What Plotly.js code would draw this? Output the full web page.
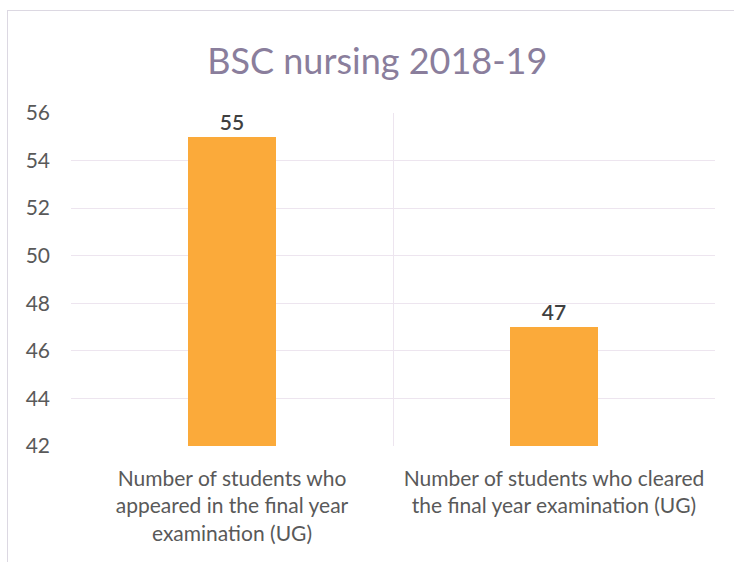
<!DOCTYPE html>
<html>
<head>
<meta charset="utf-8">
<script src="https://cdn.plot.ly/plotly-3.0.1.min.js"></script>
<style>
  html, body { margin: 0; padding: 0; background: #fff; }
  #wrap { position: relative; width: 734px; height: 562px; overflow: hidden; }
  #chart { width: 734px; height: 562px; }
  #frame { position: absolute; left: 7px; top: 10px; width: 740px; height: 560px; border: 1px solid #dcd8e2; pointer-events: none; }
</style>
</head>
<body>
<div id="wrap">
  <div id="chart"></div>
  <div id="frame"></div>
</div>
<script>
const categories = [
  "Number of students who<br>appeared in the final year<br>examination (UG)",
  "Number of students who cleared<br>the final year examination (UG)"
];
const values = [55, 47];
const valueLabels = ["55", "47"];
const yTicks = [42, 44, 46, 48, 50, 52, 54, 56];

const trace = {
  type: "bar",
  x: categories,
  y: values,
  text: valueLabels,
  textposition: "outside",
  cliponaxis: false,
  textfont: { family: "Lato, sans-serif", size: 21, color: "#404040", weight: 600 },
  marker: { color: "#FBAA3A" },
  width: 0.273,
  hoverinfo: "none"
};

const layout = {
  width: 734,
  height: 562,
  margin: { l: 71, r: 19, t: 113, b: 116 },
  paper_bgcolor: "#ffffff",
  plot_bgcolor: "#ffffff",
  font: { family: "Lato, sans-serif", color: "#595959" },
  title: {
    text: "BSC nursing 2018-19",
    font: { family: "Lato, sans-serif", size: 36, color: "#8a7e9c" },
    x: 0.514, xanchor: "center",
    y: 0.89, yanchor: "middle"
  },
  showlegend: false,
  bargap: 0,
  xaxis: {
    type: "category",
    tickson: "boundaries",
    showgrid: true,
    gridcolor: "#ede5ef",
    gridwidth: 1,
    ticks: "",
    showline: false,
    zeroline: false,
    tickfont: { family: "Lato, sans-serif", size: 21, color: "#595959" },
    ticklabelstandoff: 18
  },
  yaxis: {
    range: [42, 56],
    tickvals: yTicks,
    ticktext: yTicks.map(String),
    showgrid: true,
    gridcolor: "#ede5ef",
    gridwidth: 1,
    zeroline: false,
    showline: false,
    ticks: "",
    tickfont: { family: "Lato, sans-serif", size: 21, color: "#595959" },
    ticklabelstandoff: 20
  }
};

Plotly.newPlot("chart", [trace], layout, { staticPlot: true, displayModeBar: false });
</script>
</body>
</html>
